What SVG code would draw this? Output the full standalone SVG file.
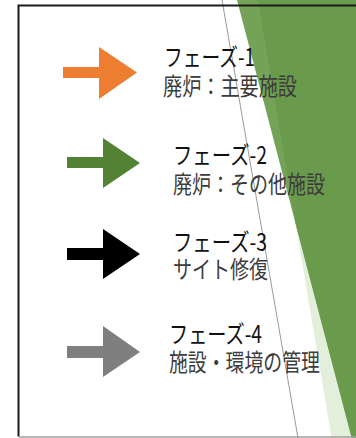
<svg xmlns="http://www.w3.org/2000/svg" width="356" height="438" viewBox="0 0 356 438">
<style>
.t1{font-family:"Noto Sans CJK JP","Noto Sans",sans-serif;font-size:24px;fill:#111}
.t2{font-family:"Noto Sans CJK JP","Noto Sans",sans-serif;font-size:24px;fill:#3c3c3c}
</style>
<rect x="0" y="0" width="356" height="438" fill="#fff"/>
<g id="background">
<polygon points="258,0 331.6,438 356,438 356,0" fill="#E3EFDA"/>
<polygon points="237,0 351.8,438 356,438 356,0" fill="#74A357"/>
<polygon points="258,0 295.5,223 351.8,438 356,438 356,0" fill="#6A9A4B"/>
<line x1="222" y1="0" x2="298" y2="438" stroke="#9a9a9a" stroke-width="1"/>
<path d="M356,5.5 H18.5 V436.5" fill="none" stroke="#1a1a1a" stroke-width="2"/>
<line x1="19" y1="437" x2="356" y2="437" stroke="#a0a0a0" stroke-width="1.5"/>
</g>
<g id="connectors">
<polygon id="arrow1" points="63,67 99,67 99,47 137,72.5 99,99 99,78 63,78" fill="#ED7D31"/>
<polygon id="arrow2" points="67,157 103,157 103,138 140,163 103,188 103,168 67,168" fill="#548235"/>
<polygon id="arrow3" points="67,248 103,248 103,229 140,254 103,279 103,260 67,260" fill="#000"/>
<polygon id="arrow4" points="67,346 103,346 103,326 140,352 103,377 103,358 67,358" fill="#7F7F7F"/>
</g>
<g id="phase1">
<text class="t1" x="164" y="65.5" textLength="91" lengthAdjust="spacingAndGlyphs">フェーズ-1</text>
<text class="t2" x="163" y="95" textLength="134" lengthAdjust="spacingAndGlyphs">廃炉：主要施設</text>
</g>
<g id="phase2">
<text class="t1" x="173" y="163.5" textLength="94" lengthAdjust="spacingAndGlyphs">フェーズ-2</text>
<text class="t2" x="173" y="193" textLength="152" lengthAdjust="spacingAndGlyphs">廃炉：その他施設</text>
</g>
<g id="phase3">
<text class="t1" x="173" y="250.5" textLength="94" lengthAdjust="spacingAndGlyphs">フェーズ-3</text>
<text class="t2" x="173" y="278" textLength="95" lengthAdjust="spacingAndGlyphs">サイト修復</text>
</g>
<g id="phase4">
<text class="t1" x="169" y="342.5" textLength="93" lengthAdjust="spacingAndGlyphs">フェーズ-4</text>
<text class="t2" x="169" y="371" textLength="151" lengthAdjust="spacingAndGlyphs">施設・環境の管理</text>
</g>
</svg>
